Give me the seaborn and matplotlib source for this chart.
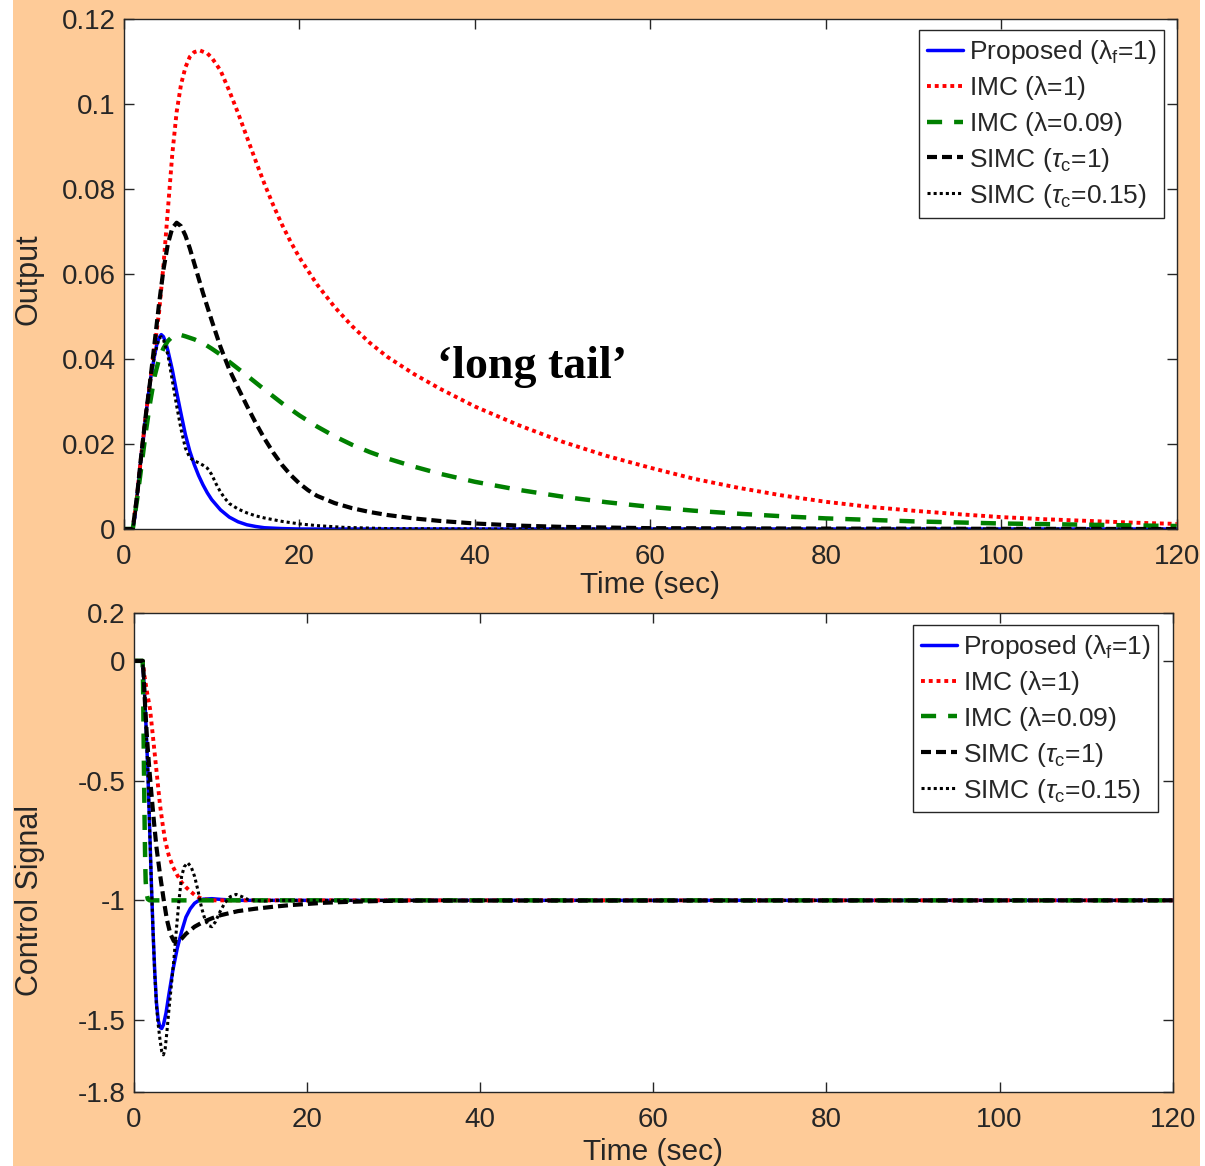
import matplotlib
matplotlib.use("Agg")
import matplotlib.pyplot as plt
import seaborn as sns
import pandas as pd
from matplotlib.patches import Rectangle

# ---------------- Output (disturbance response) ----------------
t_prop_y = [0, 1.0, 1.25, 1.5, 1.75, 2.0, 2.25, 2.5, 2.75, 3.0, 3.25, 3.5, 3.75, 4.0, 4.25,
            4.5, 4.75, 5.0, 5.5, 6.0, 6.5, 7.0, 7.5, 8.0, 8.5, 9.0, 9.5, 10.0, 11.0, 12.0,
            13.0, 14.0, 15.0, 16.0, 18.0, 20.0, 30.0, 60.0, 120.0]
prop_y = [0, 0, 0.003, 0.008, 0.013, 0.018, 0.022, 0.027, 0.031, 0.035, 0.038, 0.041, 0.0435,
          0.045, 0.0457, 0.0452, 0.0438, 0.042, 0.0375, 0.0322, 0.0271, 0.0222, 0.0183,
          0.0152, 0.0126, 0.0104, 0.0085, 0.0069, 0.0045, 0.0028, 0.0017, 0.0010, 0.0006,
          0.0003, 0.0001, 0, 0, 0, 0]

t_imc1_y = [0, 1.0, 1.5, 2.0, 2.5, 3.0, 3.5, 4.0, 4.5, 5.0, 5.5, 6.0, 6.5, 7.0, 7.5, 8.0,
            8.65, 9.5, 10.0, 11.0, 12.0, 13.0, 14.0, 15.0, 16.0, 17.0, 18.0, 19.0, 20.0,
            22.0, 24.0, 26.0, 28.0, 30.0, 33.0, 36.0, 40.0, 45.0, 50.0, 55.0, 60.0, 65.0,
            70.0, 75.0, 80.0, 85.0, 90.0, 95.0, 100.0, 105.0, 110.0, 115.0, 120.0]
imc1_y = [0, 0, 0.008, 0.018, 0.027, 0.035, 0.043, 0.051, 0.062, 0.075, 0.088, 0.098, 0.1045,
          0.1085, 0.111, 0.1121, 0.1125, 0.1118, 0.1108, 0.1078, 0.1030, 0.0978, 0.0922,
          0.0866, 0.0812, 0.0762, 0.0716, 0.0675, 0.0638, 0.0575, 0.0522, 0.0477, 0.0438,
          0.0405, 0.0365, 0.0330, 0.0288, 0.0244, 0.0205, 0.0172, 0.0144, 0.0118, 0.0097,
          0.0079, 0.0064, 0.0052, 0.0043, 0.0035, 0.0028, 0.0023, 0.0019, 0.0015, 0.0012]

t_imc09_y = [0, 1.0, 1.5, 2.0, 2.5, 3.0, 3.5, 4.0, 4.5, 5.0, 5.5, 6.0, 6.5, 7.0, 8.0, 9.0,
             10.0, 11.0, 12.0, 13.0, 14.0, 16.0, 18.0, 20.0, 22.0, 24.0, 26.0, 28.0, 30.0,
             33.0, 36.0, 40.0, 45.0, 50.0, 55.0, 60.0, 65.0, 70.0, 75.0, 80.0, 90.0, 100.0,
             110.0, 120.0]
imc09_y = [0, 0, 0.007, 0.015, 0.023, 0.030, 0.036, 0.040, 0.0425, 0.0442, 0.0452, 0.0456,
           0.0456, 0.0453, 0.0446, 0.0437, 0.0424, 0.041, 0.0393, 0.0377, 0.0361, 0.0328,
           0.0296, 0.0267, 0.0241, 0.0218, 0.0198, 0.0181, 0.0166, 0.0147, 0.0130, 0.0111,
           0.0092, 0.0076, 0.0063, 0.0052, 0.0043, 0.0036, 0.003, 0.0025, 0.0018, 0.0013,
           0.001, 0.0007]

t_simc1_y = [0, 1.0, 1.5, 2.0, 2.5, 3.0, 3.5, 4.0, 4.5, 5.0, 5.5, 6.0, 6.5, 7.0, 7.5, 8.0,
             9.0, 10.0, 11.0, 12.0, 13.0, 14.0, 15.0, 16.0, 17.0, 18.0, 19.0, 20.0, 21.0,
             22.0, 24.0, 26.0, 28.0, 30.0, 33.0, 36.0, 40.0, 45.0, 50.0, 60.0, 80.0, 120.0]
simc1_y = [0, 0, 0.008, 0.018, 0.027, 0.035, 0.044, 0.053, 0.061, 0.067, 0.0707, 0.072,
           0.0712, 0.069, 0.066, 0.0625, 0.0555, 0.049, 0.0428, 0.0375, 0.0332, 0.0290,
           0.0250, 0.0213, 0.0180, 0.0151, 0.0127, 0.0107, 0.0091, 0.0078, 0.0061, 0.0049,
           0.0040, 0.0033, 0.0025, 0.0019, 0.0013, 0.0008, 0.0005, 0.0002, 0.0001, 0]

t_simc015_y = [0, 1.0, 1.25, 1.5, 1.75, 2.0, 2.5, 3.0, 3.5, 4.0, 4.25, 4.5, 5.0, 5.5, 6.0,
               6.5, 7.0, 7.5, 8.0, 8.5, 9.0, 9.5, 10.0, 10.5, 11.0, 11.5, 12.0, 13.0, 14.0,
               15.0, 16.0, 18.0, 20.0, 22.0, 25.0, 30.0, 40.0, 120.0]
simc015_y = [0, 0, 0.003, 0.008, 0.013, 0.018, 0.027, 0.035, 0.041, 0.0448, 0.0452, 0.0445,
             0.041, 0.035, 0.029, 0.0235, 0.019, 0.0168, 0.016, 0.0156, 0.015, 0.0143,
             0.0128, 0.0106, 0.0087, 0.0072, 0.006, 0.0047, 0.0038, 0.0031, 0.0026, 0.0018,
             0.0012, 0.0008, 0.0004, 0.0001, 0, 0]

# ---------------- Control signal ----------------
t_prop_u = [0, 1.0, 1.2, 1.4, 1.6, 1.8, 2.0, 2.2, 2.4, 2.6, 2.8, 3.0, 3.2, 3.4, 3.7, 4.0,
            4.5, 5.0, 5.5, 6.0, 6.5, 7.0, 7.5, 8.0, 9.0, 10.0, 12.0, 120.0]
prop_u = [0, 0, -0.12, -0.28, -0.46, -0.69, -0.92, -1.13, -1.30, -1.43, -1.50, -1.53,
          -1.535, -1.52, -1.47, -1.40, -1.29, -1.20, -1.13, -1.07, -1.035, -1.012, -1.0,
          -0.995, -0.993, -0.996, -1.0, -1.0]

t_imc1_u = [0, 1.0, 1.2, 1.5, 1.85, 2.2, 2.6, 3.0, 3.3, 3.6, 4.0, 4.5, 5.0, 5.5, 6.0, 6.5,
            7.0, 7.5, 8.0, 9.0, 120.0]
imc1_u = [0, 0, -0.06, -0.13, -0.2, -0.32, -0.46, -0.6, -0.68, -0.75, -0.81, -0.86, -0.895,
          -0.925, -0.945, -0.962, -0.977, -0.988, -0.995, -1.0, -1.0]

t_imc09_u = [0, 1.0, 1.05, 1.1, 1.15, 1.2, 1.25, 1.3, 1.35, 1.45, 1.6, 1.8, 120.0]
imc09_u = [0, 0, -0.1, -0.28, -0.45, -0.6, -0.74, -0.85, -0.92, -0.97, -0.995, -1.0, -1.0]

t_simc1_u = [0, 1.0, 1.1, 1.3, 1.5, 1.7, 2.0, 2.3, 2.6, 3.0, 3.4, 3.8, 4.2, 4.6, 5.0, 5.5,
             6.0, 7.0, 8.0, 9.0, 10.0, 12.0, 14.0, 16.0, 18.0, 20.0, 22.0, 25.0, 28.0,
             32.0, 120.0]
simc1_u = [0, 0, -0.05, -0.2, -0.32, -0.42, -0.55, -0.67, -0.78, -0.89, -0.99, -1.08,
           -1.14, -1.17, -1.175, -1.16, -1.14, -1.11, -1.09, -1.075, -1.062, -1.045, -1.035,
           -1.027, -1.02, -1.015, -1.01, -1.006, -1.003, -1.001, -1.0]

t_simc015_u = [0, 1.0, 1.2, 1.4, 1.6, 1.8, 2.0, 2.2, 2.4, 2.6, 2.8, 3.0, 3.2, 3.4, 3.6,
               3.8, 4.0, 4.3, 4.6, 4.9, 5.2, 5.5, 5.8, 6.2, 6.6, 7.0, 7.4, 7.8, 8.2, 8.6,
               9.0, 9.4, 9.9, 10.5, 11.1, 11.8, 12.5, 13.2, 14.0, 15.0, 16.0, 120.0]
simc015_u = [0, 0, -0.12, -0.28, -0.46, -0.69, -0.92, -1.13, -1.31, -1.44, -1.52, -1.58,
             -1.63, -1.645, -1.62, -1.55, -1.47, -1.36, -1.25, -1.12, -1.0, -0.9, -0.86,
             -0.843, -0.86, -0.9, -0.96, -1.03, -1.08, -1.105, -1.11, -1.09, -1.05, -1.01,
             -0.985, -0.975, -0.985, -0.997, -1.0, -1.003, -1.0, -1.0]

series_labels = ["Proposed ($\\mathregular{\\lambda_f}$=1)",
                 "IMC ($\\mathregular{\\lambda}$=1)",
                 "IMC ($\\mathregular{\\lambda}$=0.09)",
                 "SIMC ($\\tau_\\mathregular{c}$=1)",
                 "SIMC ($\\tau_\\mathregular{c}$=0.15)"]

x_ticks = [0, 20, 40, 60, 80, 100, 120]
y_ticks_top = [0, 0.02, 0.04, 0.06, 0.08, 0.1, 0.12]
y_ticklabels_top = ["0", "0.02", "0.04", "0.06", "0.08", "0.1", "0.12"]
y_ticks_bot = [-1.8, -1.5, -1.0, -0.5, 0, 0.2]
y_ticklabels_bot = ["-1.8", "-1.5", "-1", "-0.5", "0", "0.2"]

# line styles: colour, width (pt), dash pattern (in units of line width)
styles = [
    ("#0000FF", 2.5, None),
    ("#FF0000", 2.8, (1.0, 1.0)),
    ("#008000", 3.2, (3.4, 2.7)),
    ("#000000", 3.0, (2.4, 1.2)),
    ("#000000", 2.2, (1.0, 1.0)),
]

PEACH = "#FECB98"
INK = "#262626"

sns.set_style("ticks")
plt.rcParams["font.family"] = ["Liberation Sans", "DejaVu Sans"]
plt.rcParams["mathtext.fontset"] = "custom"
plt.rcParams["mathtext.rm"] = "Liberation Sans"
plt.rcParams["mathtext.it"] = "Liberation Sans:italic"
plt.rcParams["mathtext.bf"] = "Liberation Sans:bold"

fig = plt.figure(figsize=(12.05, 11.66), dpi=100, facecolor="white")
fig.patches.append(Rectangle((13 / 1205, 0), (1200 - 13) / 1205, 1,
                             transform=fig.transFigure, facecolor=PEACH,
                             edgecolor="none", zorder=-10))

ax1 = fig.add_axes([0.1029, 0.5463, 0.8736, 0.4378])
ax2 = fig.add_axes([0.1112, 0.0635, 0.8620, 0.4108])

top_data = [(t_prop_y, prop_y), (t_imc1_y, imc1_y), (t_imc09_y, imc09_y),
            (t_simc1_y, simc1_y), (t_simc015_y, simc015_y)]
bot_data = [(t_prop_u, prop_u), (t_imc1_u, imc1_u), (t_imc09_u, imc09_u),
            (t_simc1_u, simc1_u), (t_simc015_u, simc015_u)]


def draw(ax, data):
    for (t, v), lab, (col, lw, dash) in zip(data, series_labels, styles):
        df = pd.DataFrame({"t": t, "v": v})
        kw = {}
        if dash is not None:
            kw["linestyle"] = (0, dash)
        sns.lineplot(data=df, x="t", y="v", ax=ax, color=col, linewidth=lw,
                     label=lab, estimator=None, sort=False, **kw)


draw(ax1, top_data)
draw(ax2, bot_data)

for ax in (ax1, ax2):
    ax.set_facecolor("white")
    ax.set_xlim(0, 120)
    ax.set_xticks(x_ticks)
    ax.set_xticklabels([str(v) for v in x_ticks])
    ax.tick_params(axis="both", which="major", direction="in", length=7.5, width=1.0,
                   top=True, right=True, labelsize=20, colors=INK)
    ax.tick_params(axis="x", pad=11)
    ax.tick_params(axis="y", pad=6)
    for sp in ax.spines.values():
        sp.set_visible(True)
        sp.set_color(INK)
        sp.set_linewidth(1.0)

ax1.set_ylim(0, 0.12)
ax1.set_yticks(y_ticks_top)
ax1.set_yticklabels(y_ticklabels_top)
ax2.set_ylim(-1.8, 0.2)
ax2.set_yticks(y_ticks_bot)
ax2.set_yticklabels(y_ticklabels_bot)

ax1.set_xlabel("Time (sec)", fontsize=21.5, color=INK)
ax1.set_ylabel("Output", fontsize=22, color=INK)
ax2.set_xlabel("Time (sec)", fontsize=21.5, color=INK)
ax2.set_ylabel("Control Signal", fontsize=22, color=INK)
ax1.xaxis.set_label_coords(0.5, -0.082)
ax2.xaxis.set_label_coords(0.5, -0.097)
ax1.yaxis.set_label_coords(-0.076, 0.49)
ax2.yaxis.set_label_coords(-0.086, 0.40)

ax1.text(46.5, 0.0381, "\u2018long tail\u2019", fontfamily="Liberation Serif",
         fontweight="bold", fontsize=33, ha="center", va="center", color="black")

legend_kw = dict(loc="upper right", borderaxespad=0, fontsize=19, frameon=True,
                 fancybox=False, framealpha=1, edgecolor=INK, facecolor="white",
                 handlelength=1.36, handletextpad=0.2, borderpad=0.3, labelspacing=0.3)
leg1 = ax1.legend(bbox_to_anchor=(0.988, 0.9775), **legend_kw)
leg2 = ax2.legend(bbox_to_anchor=(0.9859, 0.975), **legend_kw)
for leg in (leg1, leg2):
    leg.get_frame().set_linewidth(1.0)

fig.savefig("out.png", dpi=100, facecolor=fig.get_facecolor())
